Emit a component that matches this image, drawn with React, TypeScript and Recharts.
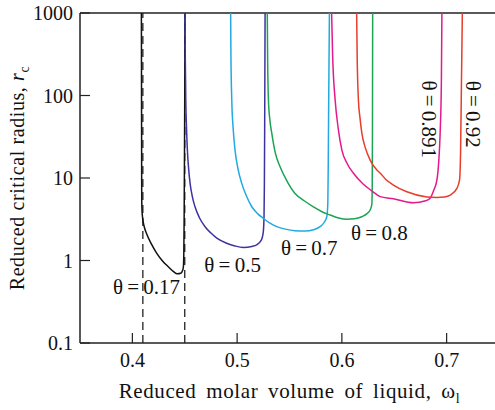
import React from 'react';
import {
  LineChart,
  Line,
  XAxis,
  YAxis,
  ReferenceLine,
  ReferenceDot,
  Label,
} from 'recharts';

// reduced molar volume (w) vs reduced critical radius (r), one array per theta
const theta017 = [
  { w: 0.4086, r: 1000 }, { w: 0.40868, r: 300 }, { w: 0.40875, r: 80 },
  { w: 0.40882, r: 25 }, { w: 0.40888, r: 9 }, { w: 0.40895, r: 5.2 },
  { w: 0.4092, r: 4 }, { w: 0.4099, r: 3.2 }, { w: 0.4112, r: 2.6 },
  { w: 0.4137, r: 2.1 }, { w: 0.418, r: 1.6 }, { w: 0.4233, r: 1.22 },
  { w: 0.429, r: 0.98 }, { w: 0.4343, r: 0.84 }, { w: 0.439, r: 0.74 },
  { w: 0.4429, r: 0.69 }, { w: 0.4462, r: 0.7 }, { w: 0.448, r: 0.76 },
  { w: 0.4487, r: 0.84 }, { w: 0.4491, r: 1.2 }, { w: 0.4494, r: 3 },
  { w: 0.4497, r: 15 }, { w: 0.45, r: 100 }, { w: 0.4502, r: 1000 },
];
const theta05 = [
  { w: 0.4502, r: 1000 }, { w: 0.4505, r: 300 }, { w: 0.451, r: 87 },
  { w: 0.4517, r: 40 }, { w: 0.4525, r: 21.8 }, { w: 0.4537, r: 13 },
  { w: 0.4551, r: 8.6 }, { w: 0.4572, r: 6 }, { w: 0.4598, r: 4.48 },
  { w: 0.464, r: 3.3 }, { w: 0.4694, r: 2.57 }, { w: 0.475, r: 2.15 },
  { w: 0.4806, r: 1.87 }, { w: 0.49, r: 1.62 }, { w: 0.498, r: 1.5 },
  { w: 0.506, r: 1.44 }, { w: 0.514, r: 1.48 }, { w: 0.519, r: 1.56 },
  { w: 0.5219, r: 1.68 }, { w: 0.524, r: 1.9 }, { w: 0.5251, r: 2.3 },
  { w: 0.5257, r: 3.5 }, { w: 0.526, r: 8 }, { w: 0.5263, r: 40 },
  { w: 0.5267, r: 1000 },
];
const theta07 = [
  { w: 0.4938, r: 1000 }, { w: 0.4941, r: 300 }, { w: 0.4949, r: 87.7 },
  { w: 0.4962, r: 40 }, { w: 0.498, r: 21.8 }, { w: 0.5008, r: 13 },
  { w: 0.5044, r: 8.6 }, { w: 0.509, r: 6 }, { w: 0.514, r: 4.48 },
  { w: 0.5195, r: 3.7 }, { w: 0.5251, r: 3.24 }, { w: 0.531, r: 2.85 },
  { w: 0.5379, r: 2.57 }, { w: 0.546, r: 2.4 }, { w: 0.555, r: 2.3 },
  { w: 0.5649, r: 2.28 }, { w: 0.573, r: 2.36 }, { w: 0.5792, r: 2.57 },
  { w: 0.5835, r: 2.95 }, { w: 0.5856, r: 3.39 }, { w: 0.5866, r: 5 },
  { w: 0.587, r: 15 }, { w: 0.5874, r: 80 }, { w: 0.5881, r: 1000 },
];
const theta08 = [
  { w: 0.5288, r: 1000 }, { w: 0.5291, r: 300 }, { w: 0.5299, r: 87.7 },
  { w: 0.5313, r: 50 }, { w: 0.5331, r: 34.7 }, { w: 0.5365, r: 20 },
  { w: 0.541, r: 13.7 }, { w: 0.548, r: 9 }, { w: 0.5553, r: 6.5 },
  { w: 0.564, r: 5.3 }, { w: 0.5728, r: 4.48 }, { w: 0.581, r: 3.9 },
  { w: 0.5888, r: 3.56 }, { w: 0.597, r: 3.27 }, { w: 0.6047, r: 3.16 },
  { w: 0.612, r: 3.2 }, { w: 0.619, r: 3.39 }, { w: 0.624, r: 3.7 },
  { w: 0.627, r: 4.1 }, { w: 0.6286, r: 4.8 }, { w: 0.629, r: 8 },
  { w: 0.6292, r: 40 }, { w: 0.6294, r: 1000 },
];
const theta0891 = [
  { w: 0.5902, r: 1000 }, { w: 0.5912, r: 300 }, { w: 0.5936, r: 87.7 },
  { w: 0.5965, r: 40 }, { w: 0.6, r: 21.8 }, { w: 0.605, r: 15 },
  { w: 0.6111, r: 11.4 }, { w: 0.62, r: 8.5 }, { w: 0.6298, r: 6.8 },
  { w: 0.6365, r: 5.95 }, { w: 0.6492, r: 5.6 }, { w: 0.6683, r: 5.0 },
  { w: 0.68, r: 5.3 }, { w: 0.6843, r: 5.7 }, { w: 0.6875, r: 7 },
  { w: 0.6907, r: 9.4 }, { w: 0.6925, r: 16 }, { w: 0.6938, r: 34.7 },
  { w: 0.695, r: 150 }, { w: 0.6955, r: 1000 },
];
const theta092 = [
  { w: 0.6141, r: 1000 }, { w: 0.6146, r: 300 }, { w: 0.6158, r: 87.7 },
  { w: 0.6172, r: 55 }, { w: 0.6191, r: 34.7 }, { w: 0.6225, r: 23 },
  { w: 0.627, r: 16.5 }, { w: 0.6334, r: 12.5 }, { w: 0.6365, r: 11.5 },
  { w: 0.642, r: 9.6 }, { w: 0.6492, r: 8.2 }, { w: 0.662, r: 6.8 },
  { w: 0.6811, r: 5.9 }, { w: 0.6907, r: 5.82 }, { w: 0.698, r: 5.9 },
  { w: 0.7034, r: 6.2 }, { w: 0.7098, r: 7.5 }, { w: 0.7123, r: 9.4 },
  { w: 0.7133, r: 20 }, { w: 0.714, r: 100 }, { w: 0.715, r: 1000 },
];

const xTicks = [0.4, 0.5, 0.6, 0.7];
const yTicks = [0.1, 1, 10, 100, 1000];
const spinodals = [0.41, 0.45];

const curves = [
  { name: 'θ\u2009=\u20090.17', data: theta017, color: '#111111', at: [0.4135, 0.477], angle: 0 },
  { name: 'θ\u2009=\u20090.5', data: theta05, color: '#3d33a0', at: [0.4957, 0.88], angle: 0 },
  { name: 'θ\u2009=\u20090.7', data: theta07, color: '#22a9e1', at: [0.5689, 1.41], angle: 0 },
  { name: 'θ\u2009=\u20090.8', data: theta08, color: '#1ca356', at: [0.6358, 2.13], angle: 0 },
  { name: 'θ\u2009=\u20090.891', data: theta0891, color: '#e4198b', at: [0.6827, 51.6], angle: 90 },
  { name: 'θ\u2009=\u20090.92', data: theta092, color: '#e73d2a', at: [0.7256, 59.4], angle: 90 },
];

const font = '"Liberation Serif", "Times New Roman", serif';
const ink = '#222';

const curveLabel = (text: string, angle: number) => (props: any) => {
  const { x, y } = props.viewBox;
  return (
    <text
      x={x}
      y={y}
      textAnchor="middle"
      dominantBaseline="central"
      fontFamily={font}
      fontSize={21}
      fill="#111"
      transform={angle ? `rotate(${angle} ${x} ${y})` : undefined}
    >
      {text}
    </text>
  );
};

const XTitle = (props: any) => {
  const { x, y, width } = props.viewBox;
  return (
    <text
      x={x + width / 2}
      y={y + 55}
      textAnchor="middle"
      fontFamily={font}
      fontSize={21}
      letterSpacing={0.6}
      wordSpacing={4}
      fill="#111"
    >
      Reduced molar volume of liquid, ω
      <tspan fontSize={14} dy={5}>l</tspan>
    </text>
  );
};

const YTitle = (props: any) => {
  const { y, height } = props.viewBox;
  const cy = y + height / 2;
  return (
    <text
      transform={`translate(23.5, ${cy}) rotate(-90)`}
      textAnchor="middle"
      fontFamily={font}
      fontSize={20}
      letterSpacing={0.6}
      fill="#111"
    >
      Reduced critical radius, <tspan fontStyle="italic">r</tspan>
      <tspan fontSize={14} dy={5}>c</tspan>
    </text>
  );
};

export default function App() {
  return (
    <div
      style={{
        position: 'absolute',
        left: 0,
        top: 0,
        width: 495,
        height: 410,
        overflow: 'hidden',
        background: '#fff',
      }}
    >
      <LineChart width={505} height={410} margin={{ top: 13, right: 6, bottom: 0, left: 0 }}>
        <XAxis
          type="number"
          dataKey="w"
          domain={[0.35, 0.75]}
          ticks={xTicks}
          allowDataOverflow
          tickFormatter={(v: number) => v.toFixed(1)}
          tickSize={-10}
          tickMargin={20}
          height={67}
          axisLine={{ stroke: ink, strokeWidth: 1.5 }}
          tickLine={{ stroke: ink, strokeWidth: 1.2 }}
          tick={{ fontFamily: font, fontSize: 20, fill: '#111' }}
        >
          <Label content={XTitle} />
        </XAxis>
        <YAxis
          type="number"
          dataKey="r"
          scale="log"
          domain={[0.1, 1000]}
          ticks={yTicks}
          allowDataOverflow
          tickFormatter={(v: number) => String(v)}
          tickSize={-10}
          tickMargin={17}
          width={80}
          axisLine={{ stroke: ink, strokeWidth: 1.5 }}
          tickLine={{ stroke: ink, strokeWidth: 1.2 }}
          tick={{ fontFamily: font, fontSize: 20, fill: '#111' }}
        >
          <Label content={YTitle} />
        </YAxis>
        <ReferenceLine y={1000} stroke={ink} strokeWidth={1.5} />
        {spinodals.map((w) => (
          <ReferenceLine key={w} x={w} stroke={ink} strokeWidth={1.3} strokeDasharray="8 5" />
        ))}
        {curves.map((c) => (
          <Line
            key={c.name}
            data={c.data}
            dataKey="r"
            type="monotone"
            stroke={c.color}
            strokeWidth={1.5}
            dot={false}
            activeDot={false}
            isAnimationActive={false}
          />
        ))}
        {curves.map((c) => (
          <ReferenceDot
            key={'lbl' + c.name}
            x={c.at[0]}
            y={c.at[1]}
            r={0}
            fill="none"
            stroke="none"
            label={{ content: curveLabel(c.name, c.angle) }}
          />
        ))}
      </LineChart>
    </div>
  );
}
